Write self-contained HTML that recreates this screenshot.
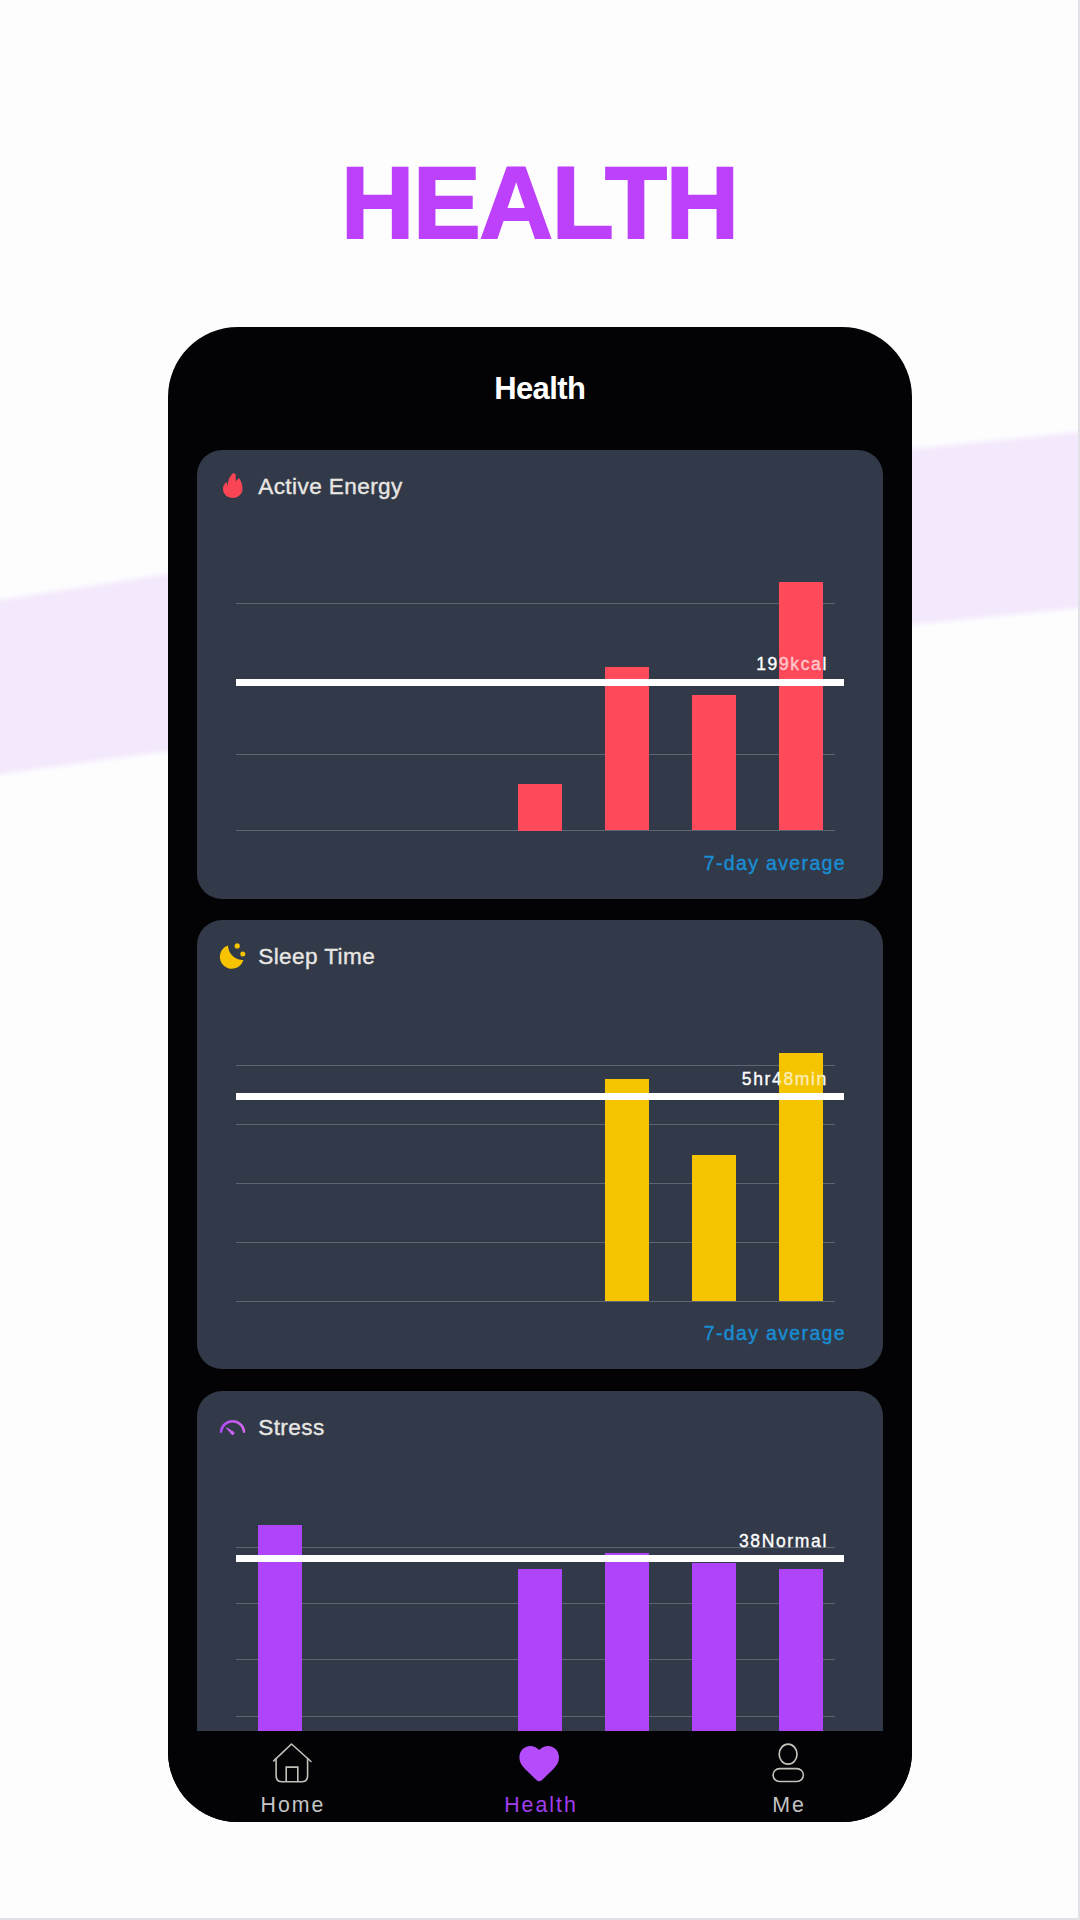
<!DOCTYPE html>
<html><head><meta charset="utf-8">
<style>
*{margin:0;padding:0;box-sizing:border-box}
html,body{width:1080px;height:1920px;overflow:hidden;background:#fdfdfe;font-family:"Liberation Sans",sans-serif}
#bg{position:absolute;left:0;top:0;width:1080px;height:1920px}
.title{position:absolute;left:0;width:1080px;text-align:center;top:152.5px;font-size:101.5px;line-height:101.5px;font-weight:bold;color:#bd40fa;-webkit-text-stroke:2px #bd40fa;letter-spacing:-1.2px;text-indent:-1.2px}
.phone{position:absolute;left:168px;top:327px;width:744px;height:1495.4px;border-radius:70px;background:#030305;overflow:hidden}
.hdr{position:absolute;left:0;width:744px;text-align:center;top:45.8px;font-size:31px;line-height:31px;color:#fff;font-weight:bold;letter-spacing:-0.6px;text-indent:-0.6px}
.card{position:absolute;left:29px;width:686px;height:449px;border-radius:25px;background:#323a49;overflow:hidden}
.ctitle{position:absolute;left:61.2px;top:25.9px;font-size:22.6px;line-height:22.6px;color:#e8e6e2;letter-spacing:0.4px;-webkit-text-stroke:0.35px #e8e6e2}
.icon{position:absolute;overflow:visible}
.grid{position:absolute;left:39px;width:599px;height:1px;background:#5e6572}
.avg{position:absolute;left:39px;width:608px;height:7px;background:#fff}
.bar{position:absolute;width:44px}
.lbl{position:absolute;right:55px;font-size:17.5px;line-height:17.5px;color:#fff;letter-spacing:1.65px;-webkit-text-stroke:0.35px #fff}
.seven{position:absolute;right:37px;top:403.6px;font-size:19.5px;line-height:19.5px;color:#198dd4;letter-spacing:1.35px;-webkit-text-stroke:0.4px #198dd4}
.tabbar{position:absolute;left:0;top:1404px;width:744px;height:91px;background:#030305}
.tab{position:absolute;top:64px;width:248px;text-align:center;font-size:21.3px;line-height:21.3px;color:#c4c4c4;letter-spacing:2px;text-indent:2px}
.r{background:#ff4a5b}.y{background:#f5c400}.p{background:#b044fb}
</style></head>
<body>
<svg id="bg" width="1080" height="1920" viewBox="0 0 1080 1920">
  <defs><filter id="bl"><feGaussianBlur stdDeviation="2.5"/></filter></defs>
  <polygon points="-20,603 168,574 912,449 1100,430 1100,606 912,624.5 168,751 -20,777" fill="#f3e8fc" filter="url(#bl)"/>
  <rect x="1078" y="0" width="2" height="1920" fill="#e2e1e8"/>
  <rect x="0" y="1918" width="1080" height="2" fill="#e2e1e8"/>
</svg>
<div class="title">HEALTH</div>

<div class="phone">
  <div class="hdr">Health</div>

  <!-- Card 1: Active Energy -->
  <div class="card" style="top:123px;height:448.5px">
    <svg class="icon" style="left:25.7px;top:23px" width="20" height="25" viewBox="0 0 20 25">
      <path d="M10.5 0 C7 2.5 5 6.5 4.8 12.5 L3.4 9 C1.2 10.8 0 13.5 0 16 C0 21 4.5 25 9.8 25 C15.3 25 19.5 21 19.5 15.8 C19.5 11.5 18 7.5 16 5 C14.6 6.3 13.4 7.4 12.7 8.8 L12.7 1.6 C12 0.9 11.2 0.3 10.5 0 Z" fill="#fa4555"/>
    </svg>
    <div class="ctitle">Active Energy</div>
    <div class="grid" style="top:153.4px"></div>
    <div class="grid" style="top:229px"></div>
    <div class="grid" style="top:304.4px"></div>
    <div class="grid" style="top:380px"></div>
    <div class="bar r" style="left:321px;top:334px;height:46.5px"></div>
    <div class="bar r" style="left:408px;top:216.7px;height:163.8px"></div>
    <div class="bar r" style="left:495px;top:245.1px;height:135.4px"></div>
    <div class="bar r" style="left:582px;top:131.8px;height:248.7px"></div>
    <div class="avg" style="top:228.5px"></div>
    <div class="lbl" style="top:206.4px">199kcal</div>
    <div class="bar" style="left:582px;top:205px;height:19px;background:rgba(255,74,91,0.3)"></div>
    <div class="seven">7-day average</div>
  </div>

  <!-- Card 2: Sleep Time -->
  <div class="card" style="top:593.4px">
    <svg class="icon" style="left:22.8px;top:24.6px" width="26" height="25" viewBox="0 0 26 25">
      <path d="M8.0 0.42 A12 12 0 1 0 23.37 15.0 A15 15 0 0 1 8.0 0.42 Z" fill="#f8c300"/>
      <circle cx="17.2" cy="0.9" r="2.6" fill="#f8c300"/>
      <circle cx="22.8" cy="9" r="2.5" fill="#f8c300"/>
    </svg>
    <div class="ctitle">Sleep Time</div>
    <div class="grid" style="top:144.7px"></div>
    <div class="grid" style="top:203.9px"></div>
    <div class="grid" style="top:262.7px"></div>
    <div class="grid" style="top:321.8px"></div>
    <div class="grid" style="top:380.9px"></div>
    <div class="bar y" style="left:408px;top:158.5px;height:222.4px"></div>
    <div class="bar y" style="left:495px;top:234.5px;height:146.4px"></div>
    <div class="bar y" style="left:582px;top:132.6px;height:248.3px"></div>
    <div class="avg" style="top:172.2px"></div>
    <div class="lbl" style="top:150.8px">5hr48min</div>
    <div class="bar" style="left:582px;top:149.5px;height:19px;background:rgba(245,196,0,0.3)"></div>
    <div class="seven">7-day average</div>
  </div>

  <!-- Card 3: Stress -->
  <div class="card" style="top:1064.3px">
    <svg class="icon" style="left:21px;top:27px" width="30" height="20" viewBox="0 0 30 20">
      <defs><linearGradient id="gg" x1="0" y1="0" x2="1" y2="0"><stop offset="0" stop-color="#b349fa"/><stop offset="1" stop-color="#d068ea"/></linearGradient></defs>
      <path d="M3.04 13.75 A11.55 11.55 0 0 1 26.06 13.75" fill="none" stroke="url(#gg)" stroke-width="2.5" stroke-linecap="round"/>
      <path d="M8.0 10.1 Q8.1 9.4 8.8 9.6 L15.87 13.83 A1.8 1.8 0 0 1 13.53 16.57 Z" fill="#c862f2"/>
    </svg>
    <div class="ctitle">Stress</div>
    <div class="grid" style="top:155.4px"></div>
    <div class="grid" style="top:212px"></div>
    <div class="grid" style="top:268px"></div>
    <div class="grid" style="top:324.7px"></div>
    <div class="grid" style="top:381.3px"></div>
    <div class="bar p" style="left:60.7px;top:133.4px;height:248px"></div>
    <div class="bar p" style="left:321px;top:177.7px;height:204px"></div>
    <div class="bar p" style="left:408px;top:161.7px;height:220px"></div>
    <div class="bar p" style="left:495px;top:172px;height:210px"></div>
    <div class="bar p" style="left:582px;top:177.7px;height:204px"></div>
    <div class="avg" style="top:163.7px"></div>
    <div class="lbl" style="top:141.4px">38Normal</div>
  </div>

  <div class="tabbar">
    <svg class="icon" style="left:98px;top:7px" width="52" height="50" viewBox="0 0 52 50">
      <path d="M7.7 22.9 L25.5 6 L45 23.5" fill="none" stroke="#c4c0ba" stroke-width="1.6" stroke-linecap="round" stroke-linejoin="round"/>
      <path d="M10.1 20.6 L10.1 37.8 Q10.1 43.8 16.1 43.8 L35.6 43.8 Q41.6 43.8 41.6 37.8 L41.6 20.6" fill="none" stroke="#c4c0ba" stroke-width="1.6" stroke-linecap="round"/>
      <path d="M20.2 43.8 L20.2 29.1 L31.8 29.1 L31.8 43.8" fill="none" stroke="#c4c0ba" stroke-width="1.6"/>
    </svg>
    <div class="tab" style="left:0">Home</div>
    <svg class="icon" style="left:351px;top:14.7px" width="41" height="36" viewBox="0 0 41 36">
      <path d="M20.2 4 C17.5 1.2 14.5 0 11.5 0 C5 0 0.4 5 0.4 11.5 C0.4 16 2.7 19.5 6 23 L17.7 34.3 C19.1 35.6 21.3 35.6 22.7 34.3 L34.4 23 C37.7 19.5 40 16 40 11.5 C40 5 35.4 0 28.9 0 C25.9 0 22.9 1.2 20.2 4 Z" fill="#b44cfb"/>
    </svg>
    <div class="tab" style="left:248px;color:#a03ef0">Health</div>
    <svg class="icon" style="left:598px;top:9px" width="44" height="46" viewBox="0 0 44 46">
      <ellipse cx="22.1" cy="14.2" rx="8.9" ry="10" fill="none" stroke="#c6c2bb" stroke-width="1.7"/>
      <rect x="7.05" y="28.65" width="30.3" height="12.9" rx="6.45" fill="none" stroke="#c4c0ba" stroke-width="1.6"/>
    </svg>
    <div class="tab" style="left:496px">Me</div>
  </div>
</div>
</body></html>
